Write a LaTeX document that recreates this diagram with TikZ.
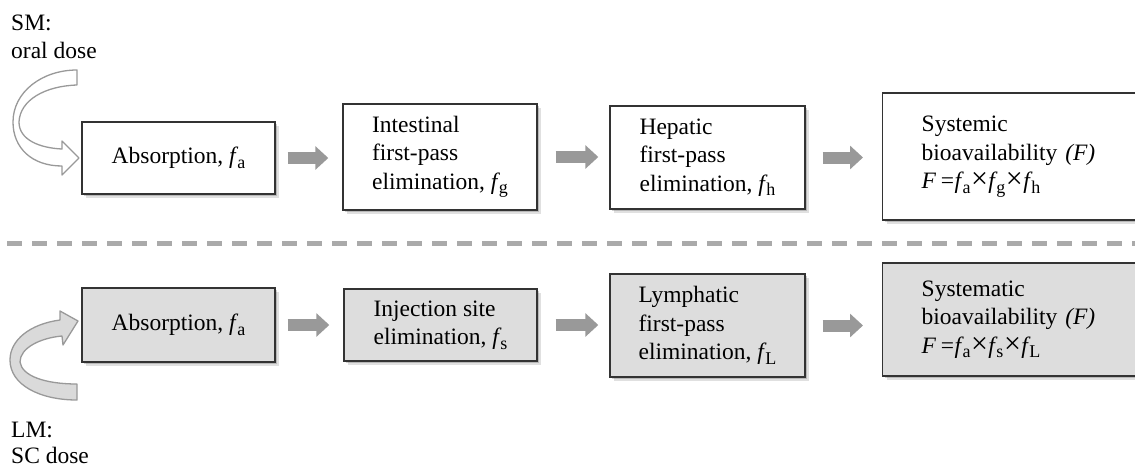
\documentclass[tikz,border=0pt]{standalone}
\usepackage{fontspec}
\setmainfont{Liberation Serif}
\usetikzlibrary{arrows.meta,shadows}
\definecolor{boxline}{HTML}{333333}
\definecolor{boxfill}{HTML}{DDDDDD}
\definecolor{arrgray}{HTML}{999999}
\definecolor{dashgray}{HTML}{AAAAAA}
\definecolor{curvefill}{HTML}{DADADA}
\newcommand{\fsub}[2]{\textit{#1}\kern-1.2pt\raisebox{-4.5pt}{\fontsize{18}{18}\selectfont #2}}
\newcommand{\tms}{\kern0.5pt{\fontsize{30}{30}\selectfont ×}\kern0.5pt}
\newcommand{\Feq}{\textit{F}\kern4.5pt=\kern0.5pt}
\begin{document}
\begin{tikzpicture}[x=1pt,y=-1pt,
  txt/.style={font=\fontsize{23.5}{28.5}\selectfont, text=black},
  box/.style={txt, draw=boxline, line width=1.4pt, fill=white, align=left,
    inner sep=0pt,
    drop shadow={shadow xshift=2pt, shadow yshift=-2pt, opacity=0.18, fill=black},
    drop shadow={shadow xshift=4pt, shadow yshift=-4pt, opacity=0.12, fill=black}},
  gbox/.style={box, fill=boxfill},
  wide/.style={text width=#1, inner xsep=39pt},
  blockarrow/.style={draw=arrgray, line width=12pt, -{Triangle[width=23pt,length=13pt]}},
  lbl/.style={txt, inner sep=0pt, anchor=base west},
  curveA/.style={draw=arrgray, line width=1.3pt, fill=white, line join=round},
  curveB/.style={draw=arrgray, line width=1.3pt, fill=curvefill, line join=round}]
\useasboundingbox (0,0) rectangle (1135,466);
\clip (0,0) rectangle (1135,466);

% labels
\node[lbl] (sm) at (11,30) {SM:};
\node[lbl] (oral) at (11,58) {oral dose};
\node[lbl] (lm) at (11,437) {LM:};
\node[lbl] (sc) at (11,463) {SC dose};

% top row
\node[box, minimum width=193pt, minimum height=72pt] (b1) at (178.5,158) {Absorption, \fsub{f}{a}};
\node[box, minimum width=194pt, minimum height=106pt] (b2) at (440,157) {Intestinal\\first-pass\\elimination, \fsub{f}{g}};
\node[box, minimum width=195pt, minimum height=103pt] (b3) at (707.5,157.5) {Hepatic\\first-pass\\elimination, \fsub{f}{h}};
\node[box, wide=200pt, minimum height=127pt, anchor=west] (b4) at (882,156.5) {Systemic\\bioavailability \textit{(F)}\\\Feq\fsub{f}{a}\tms\fsub{f}{g}\tms\fsub{f}{h}};

% bottom row
\node[gbox, minimum width=193pt, minimum height=74pt] (c1) at (178.5,325) {Absorption, \fsub{f}{a}};
\node[gbox, minimum width=193pt, minimum height=72pt] (c2) at (440.5,325) {Injection site\\elimination, \fsub{f}{s}};
\node[gbox, minimum width=195pt, minimum height=103pt] (c3) at (707.5,325.5) {Lymphatic\\first-pass\\elimination, \fsub{f}{L}};
\node[gbox, wide=200pt, minimum height=113pt, anchor=west] (c4) at (882,319.5) {Systematic\\bioavailability \textit{(F)}\\\Feq\fsub{f}{a}\tms\fsub{f}{s}\tms\fsub{f}{L}};

% block arrows
\draw[blockarrow, shorten <=12pt, shorten >=14pt] (b1.east) -- (b2.west |- b1.east);
\draw[blockarrow, shorten <=18pt, shorten >=11pt] (b2.east) -- (b3.west |- b2.east);
\draw[blockarrow, shorten <=17pt, shorten >=19pt] (b3.east) -- (b4.west |- b3.east);
\draw[blockarrow, shorten <=12pt, shorten >=14pt] (c1.east) -- (c2.west |- c1.east);
\draw[blockarrow, shorten <=18pt, shorten >=11pt] (c2.east) -- (c3.west |- c2.east);
\draw[blockarrow, shorten <=17pt, shorten >=19pt] (c3.east) -- (c4.west |- c3.east);

% separator
\draw[dashgray, line width=5pt, dash pattern=on 15pt off 10pt] (7,243) -- (1140,243);

% curved arrows
\draw[curveA] (77,70) -- (77,85) .. controls (45,86) and (20,100) .. (19,122)
  .. controls (19,140) and (40,148) .. (62,149) -- (62,141) -- (79,158) -- (62,175) -- (62,166)
  .. controls (32,166) and (13,148) .. (13,122) .. controls (13,92) and (42,70) .. (77,70) -- cycle;
\draw[curveB] (77,400) -- (77,384) .. controls (45,384) and (22,376) .. (20,362)
  .. controls (20,348) and (40,338) .. (62,336) -- (63,345) -- (78,321) -- (60,311) -- (60,320)
  .. controls (30,324) and (10,340) .. (10,360) .. controls (10,385) and (40,400) .. (77,400) -- cycle;
\end{tikzpicture}
\end{document}
